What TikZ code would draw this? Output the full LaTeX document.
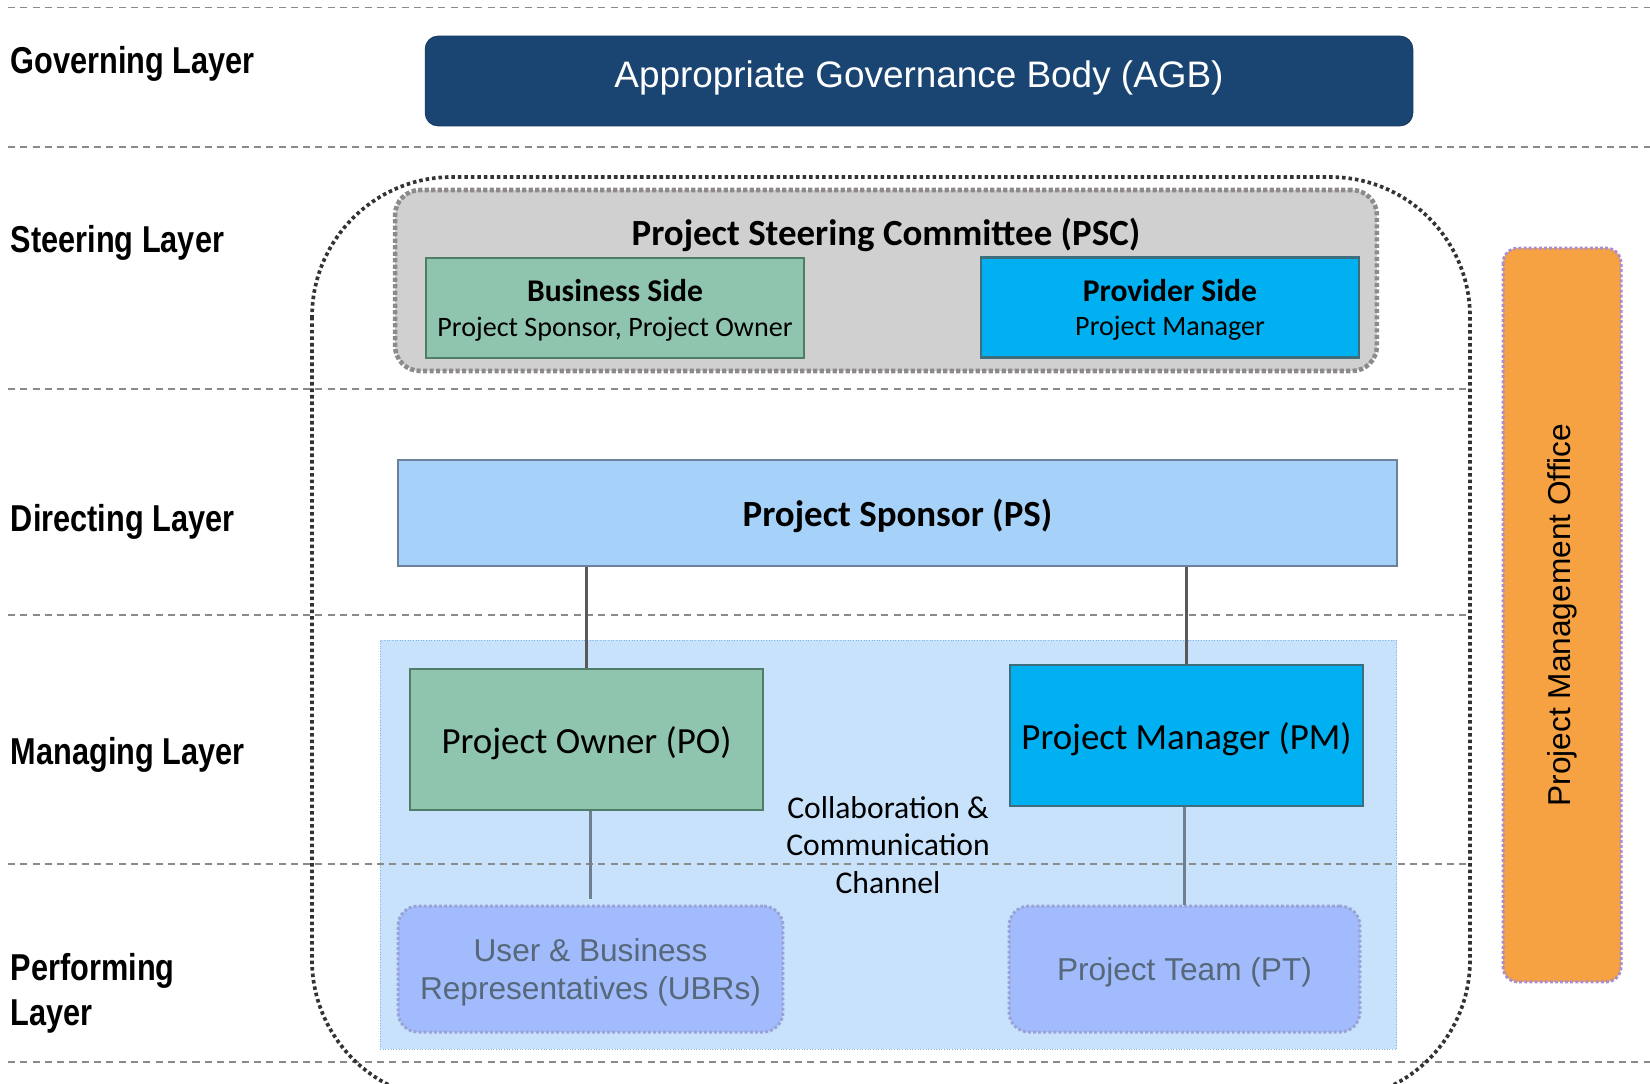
\documentclass[tikz,border=0pt]{standalone}
\usepackage{fontspec}
\setmainfont{Carlito}
\newfontfamily\arialfont{Liberation Sans}
\newfontfamily\narrowfont[FakeStretch=0.82]{Liberation Sans}

\definecolor{sepgray}{HTML}{8A8A8A}
\definecolor{agbblue}{HTML}{1A4573}
\definecolor{pscgray}{HTML}{D0D0D0}
\definecolor{pscborder}{HTML}{8E8A8A}
\definecolor{bizgreen}{HTML}{8FC5AE}
\definecolor{bizborder}{HTML}{4E7D68}
\definecolor{provcyan}{HTML}{00B0F0}
\definecolor{provborder}{HTML}{3C6E7E}
\definecolor{psblue}{HTML}{A6D2FA}
\definecolor{psborder}{HTML}{6B829B}
\definecolor{chanblue}{HTML}{C8E2FC}
\definecolor{chanborder}{HTML}{7EB4E8}
\definecolor{teamblue}{HTML}{A2BBFD}
\definecolor{teamborder}{HTML}{9AA3D8}
\definecolor{teamtext}{HTML}{56687A}
\definecolor{pmoorange}{HTML}{F6A142}
\definecolor{pmoborder}{HTML}{A98ED0}

\begin{document}
\begin{tikzpicture}[x=0.02cm, y=-0.02cm,
    layerlabel/.style={anchor=west, inner sep=0pt, align=left,
        font=\narrowfont\bfseries\fontsize{21.3}{25.6}\selectfont},
    sepline/.style={draw=sepgray, line width=0.85pt, dash pattern=on 4pt off 3pt},
    sidebox/.style={draw, line width=1.3pt, minimum width=7.56cm, minimum height=2cm,
        align=center, text depth=0pt, font=\fontsize{16}{19.5}\selectfont},
    rolebox/.style={draw, line width=1.4pt, minimum width=7.06cm, minimum height=2.82cm,
        text depth=0pt, font=\fontsize{21}{25}\selectfont},
    teambox/.style={fill=teamblue, draw=teamborder, line width=1.7pt,
        dash pattern=on 1.7pt off 1.2pt, rounded corners=0.4cm,
        minimum height=2.52cm, align=center, text=teamtext, text depth=-3pt,
        font=\arialfont\fontsize{18}{21.5}\selectfont},
    uplink/.style={draw=black!65, line width=1.6pt},
    downlink/.style={draw=teamtext!85, line width=1.3pt}]
    \useasboundingbox (0,0) rectangle (1650,1083);

    % collaboration area (behind the layer lines)
    \node[fill=chanblue, draw=chanborder, line width=0.5pt, densely dotted,
        minimum width=20.34cm, minimum height=8.18cm] (chan) at (888.5,844.5) {};

    % layer separators
    \foreach \y in {7.4,147,1062} \draw[sepline] (8,\y) -- (1650,\y);
    \foreach \y in {389,615,864} \draw[sepline] (8,\y) -- (1471,\y);

    % layer names
    \foreach \n/\t/\y in {gov/Governing Layer/64, steer/Steering Layer/243,
        dir/Directing Layer/522, man/Managing Layer/755, perf/Performing\\Layer/993.5}
        \node[layerlabel] (\n) at (10.5,\y) {\t};

    % governing body
    \node[fill=agbblue, draw=agbblue!80!black, rounded corners=0.26cm,
        minimum width=19.76cm, minimum height=1.8cm, text=white, text depth=8pt,
        font=\arialfont\fontsize{21}{25}\selectfont] (agb) at (919,81)
        {Appropriate Governance Body (AGB)};

    % project board frame
    \draw[draw=black!80, line width=2.1pt, dash pattern=on 2pt off 1.7pt,
        rounded corners=2.8cm] (312,177) rectangle (1470,1100);

    % steering committee
    \node[fill=pscgray, draw=pscborder, line width=2.6pt, dash pattern=on 2.4pt off 1.3pt,
        rounded corners=0.5cm, minimum width=19.64cm, minimum height=3.62cm] (psc) at (886,280.5) {};
    \node[font=\bfseries\fontsize{21}{25}\selectfont] (psctitle) at (886,235)
        {Project Steering Committee (PSC)};
    \node[sidebox, fill=bizgreen, draw=bizborder] (biz) at (615,308)
        {\textbf{\fontsize{18}{19.5}\selectfont Business Side}\\Project Sponsor, Project Owner};
    \node[sidebox, fill=provcyan, draw=provborder] (prov) at (1170,307.5)
        {\textbf{\fontsize{18}{19.5}\selectfont Provider Side}\\Project Manager};

    % directing
    \node[fill=psblue, draw=psborder, line width=1.1pt, minimum width=19.98cm,
        minimum height=2.12cm, text depth=0pt, font=\bfseries\fontsize{21}{25}\selectfont] (ps) at (897.5,513)
        {Project Sponsor (PS)};

    % managing
    \node[rolebox, fill=bizgreen, draw=bizborder] (po) at (586.5,739.5) {Project Owner (PO)};
    \node[rolebox, fill=provcyan, draw=provborder] (pm) at (1186.5,735.5) {Project Manager (PM)};
    \node[align=center, font=\fontsize{18}{21.5}\selectfont] (chantext) at (888,845)
        {Collaboration \&\\Communication\\Channel};

    % performing
    \node[teambox, minimum width=7.7cm] (ubr) at (590.5,969) {User \& Business\\Representatives (UBRs)};
    \node[teambox, minimum width=7.02cm] (pt) at (1184.5,969) {Project Team (PT)};

    % links
    \draw[uplink] (po.north) -- (po.north |- ps.south);
    \draw[uplink] (pm.north) -- (pm.north |- ps.south);
    \draw[downlink, shorten >=0.12cm] (ubr.north |- po.south) -- (ubr.north);
    \draw[downlink] (pt.north |- pm.south) -- (pt.north);

    % PMO
    \node[fill=pmoorange, draw=pmoborder, line width=1.7pt, dash pattern=on 1.7pt off 1.2pt,
        rounded corners=0.3cm, rotate=90, minimum width=14.68cm, minimum height=2.36cm,
        font=\arialfont\fontsize{18}{21.5}\selectfont] (pmo) at (1562,615)
        {Project Management Office};
\end{tikzpicture}
\end{document}
